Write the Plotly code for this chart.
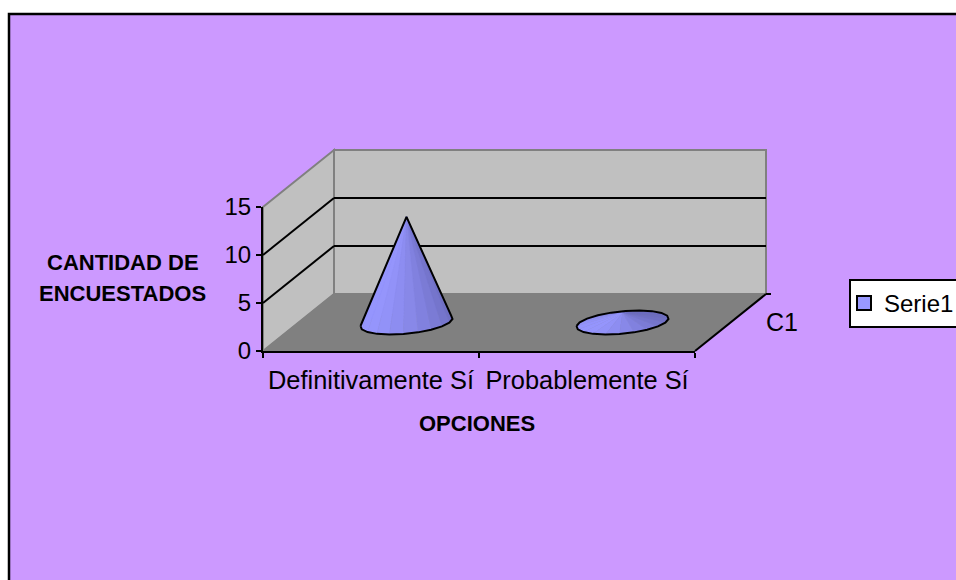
# cone chart from the survey, drawn in plotly with an oblique 3d box

import numpy as np
import plotly.graph_objects as go

# data
categories = ["Definitivamente Sí", "Probablemente Sí"]
values = [11, 1]
series_name = "Serie1"
depth_label = "C1"
y_ticks = [0, 5, 10, 15]
y_title_lines = ["CANTIDAD DE", "ENCUESTADOS"]
x_title = "OPCIONES"

# canvas (a bit wider than the window so the legend box runs off the edge)
W, H = 964, 580
LEFT, RIGHT, TOP, BOTTOM = 263, 695, 207, 351
DEPTH_X, DEPTH_Y = 71, 57
FONT = "Liberation Sans"
PURPLE = "#cc99ff"
WALL = "#c0c0c0"
FLOOR = "#808080"
BLUE = "#9999ff"


def paper(cat, val, depth=0):
    # category position, value and depth (0 front, 1 back) to paper coordinates
    x = LEFT + (cat + 0.5) / len(categories) * (RIGHT - LEFT) + depth * DEPTH_X
    y = BOTTOM - val / y_ticks[-1] * (BOTTOM - TOP) - depth * DEPTH_Y
    return x / W, 1 - y / H


def poly(points, fill, line, width=2):
    path = "M " + " L ".join(f"{x:.5f},{y:.5f}" for x, y in points) + " Z"
    return dict(type="path", xref="paper", yref="paper", path=path, fillcolor=fill,
                line=dict(color=line, width=width), layer="below")


def seg(a, b, color="black", width=2):
    return dict(type="line", xref="paper", yref="paper", x0=a[0], y0=a[1], x1=b[0], y1=b[1],
                line=dict(color=color, width=width), layer="below")


def label(x, y, text, size):
    return dict(xref="paper", yref="paper", x=x / W, y=1 - y / H, text=text, showarrow=False,
                xanchor="center", yanchor="middle", font=dict(family=FONT, size=size))


x_lo, x_hi = -0.5, len(categories) - 0.5
y_top = y_ticks[-1]

shapes = [
    # chart area, runs off the right and bottom of the window
    dict(type="rect", xref="paper", yref="paper", x0=9 / W, y0=1 - 14 / H, x1=1.1, y1=-0.1,
         fillcolor=PURPLE, line=dict(color="black", width=2.5), layer="below"),
    poly([paper(x_lo, 0, 1), paper(x_hi, 0, 1), paper(x_hi, y_top, 1), paper(x_lo, y_top, 1)], WALL, FLOOR),
    poly([paper(x_lo, 0, 0), paper(x_lo, 0, 1), paper(x_lo, y_top, 1), paper(x_lo, y_top, 0)], WALL, FLOOR),
    poly([paper(x_lo, 0, 0), paper(x_hi, 0, 0), paper(x_hi, 0, 1), paper(x_lo, 0, 1)], FLOOR, FLOOR, 1),
]
for tick in y_ticks[1:-1]:
    shapes.append(seg(paper(x_lo, tick, 0), paper(x_lo, tick, 1)))
    shapes.append(seg(paper(x_lo, tick, 1), paper(x_hi, tick, 1)))
# depth axis and its end tick
shapes.append(seg(paper(x_hi, 0, 0), paper(x_hi, 0, 1)))
end = paper(x_hi, 0, 1)
shapes.append(seg(end, (end[0] + 5 / W, end[1])))

fig = go.Figure()

# shape of a cone base, in axis units
cat_px = (RIGHT - LEFT) / len(categories)
val_px = (BOTTOM - TOP) / y_top
angles = np.linspace(0, 2 * np.pi, 21)[:-1]
base_dx = 46 / cat_px * np.cos(angles) + 3 / cat_px * np.sin(angles)
base_dy = 3.5 / val_px * np.cos(angles) + 11.5 / val_px * np.sin(angles)
centre_dx = 0.5 * DEPTH_X / cat_px
centre_dy = 0.5 * DEPTH_Y / val_px


def facet_colour(angle):
    # lit from the front left, dark towards the back right
    shade = (1 + np.cos(angle - 0.35)) / 2
    return "rgb({0},{0},{1})".format(int(150 - 42 * shade), int(254 - 64 * shade))


def hull(points):
    points = sorted(set(points))

    def half(pts):
        out = []
        for p in pts:
            while len(out) > 1 and ((out[-1][0] - out[-2][0]) * (p[1] - out[-2][1])
                                    - (out[-1][1] - out[-2][1]) * (p[0] - out[-2][0])) <= 0:
                out.pop()
            out.append(p)
        return out[:-1]

    return half(points) + half(points[::-1])


for i, value in enumerate(values):
    cx = i + centre_dx
    cy = centre_dy
    apex = (cx, cy + value)
    bx = cx + base_dx
    by = cy + base_dy
    # back facets first, so the front ones sit on top
    order = sorted(range(len(angles)), key=lambda k: -np.sin(angles[k]))
    for k in order:
        n = (k + 1) % len(angles)
        col = facet_colour(angles[k])
        fig.add_trace(go.Scatter(
            x=[apex[0], bx[k], bx[n], apex[0]],
            y=[apex[1], by[k], by[n], apex[1]],
            mode="lines", fill="toself", fillcolor=col,
            line=dict(color=col, width=0.5),
            showlegend=False, hoverinfo="skip",
        ))
    outline = hull([apex] + list(zip(bx.tolist(), by.tolist())))
    outline.append(outline[0])
    fig.add_trace(go.Scatter(
        x=[p[0] for p in outline], y=[p[1] for p in outline],
        mode="lines", line=dict(color="black", width=2),
        showlegend=False, hoverinfo="skip",
    ))

# legend entry
fig.add_trace(go.Scatter(
    x=[None], y=[None], mode="markers", name=series_name,
    marker=dict(symbol="square", size=14, color=BLUE, line=dict(color="black", width=2)),
))

annotations = [
    label(123, 262, f"<b>{y_title_lines[0]}</b>", 22),
    label(123, 293, f"<b>{y_title_lines[1]}</b>", 22),
    label(477, 423, f"<b>{x_title}</b>", 22),
    label(782, 322, depth_label, 25),
]

fig.update_layout(
    width=W, height=H, autosize=False,
    margin=dict(l=0, r=0, t=0, b=0, autoexpand=False),
    paper_bgcolor="white", plot_bgcolor="rgba(0,0,0,0)",
    font=dict(family=FONT, size=24, color="black"),
    shapes=shapes,
    annotations=annotations,
    showlegend=True,
    legend=dict(x=849 / W, y=1 - 279 / H, xanchor="left", yanchor="top", indentation=-7,
                bgcolor="white", bordercolor="black", borderwidth=2,
                font=dict(family=FONT, size=24, color="black")),
    xaxis=dict(
        domain=[LEFT / W, RIGHT / W], range=[x_lo, x_hi], showgrid=False, zeroline=False,
        tickmode="array", tickvals=list(range(len(categories))), ticktext=categories,
        tickfont=dict(size=25.4),
        ticks="", showline=True, linecolor="black", linewidth=2, ticklabelstandoff=6,
        minor=dict(tickmode="array", tickvals=[x_lo, 0.5, x_hi], ticks="outside",
                   ticklen=5, tickwidth=2, tickcolor="black", showgrid=False),
    ),
    yaxis=dict(
        domain=[1 - BOTTOM / H, 1 - TOP / H], range=[0, y_top], showgrid=False, zeroline=False,
        tickmode="array", tickvals=y_ticks, ticks="outside", ticklen=5, tickwidth=2,
        tickcolor="black", showline=True, linecolor="black", linewidth=2, ticklabelstandoff=0,
        tickfont=dict(size=24),
    ),
)

fig.write_html(
    "out.html",
    config=dict(displayModeBar=False),
    post_script="document.body.style.margin='0';document.documentElement.style.overflow='hidden';",
)
